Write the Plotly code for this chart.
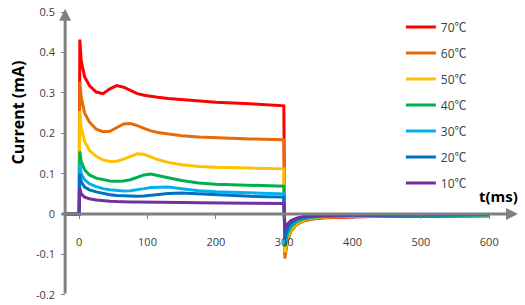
import plotly.graph_objects as go

t = [-20, 0, 1, 3, 8, 15, 25, 35, 45, 55, 65, 75, 85, 95, 105, 115, 130, 150, 175, 200, 250, 299.5,
     301, 305, 310, 318, 328, 340, 360, 390, 430, 480, 540, 600]

labels = ["70℃", "60℃", "50℃", "40℃", "30℃", "20℃", "10℃"]
colors = ["#FF0000", "#E46C0A", "#FFC000", "#00B050", "#00B0F0", "#0070C0", "#7030A0"]

c70 = [0, 0, 0.432, 0.38, 0.34, 0.318, 0.302, 0.298, 0.31, 0.318, 0.314, 0.305, 0.298, 0.294, 0.291, 0.289,
       0.286, 0.283, 0.280, 0.277, 0.273, 0.268,
       -0.100, -0.060, -0.040, -0.025, -0.017, -0.012, -0.009, -0.007, -0.006, -0.006, -0.005, -0.005]
c60 = [0, 0, 0.328, 0.29, 0.25, 0.228, 0.21, 0.204, 0.205, 0.214, 0.223, 0.224, 0.219, 0.212, 0.206, 0.202,
       0.198, 0.194, 0.191, 0.189, 0.186, 0.184,
       -0.110, -0.065, -0.042, -0.026, -0.017, -0.012, -0.008, -0.006, -0.005, -0.004, -0.004, -0.003]
c50 = [0, 0, 0.255, 0.215, 0.18, 0.158, 0.143, 0.134, 0.130, 0.131, 0.136, 0.143, 0.149, 0.148, 0.142, 0.135,
       0.128, 0.122, 0.118, 0.116, 0.114, 0.112,
       -0.095, -0.056, -0.037, -0.023, -0.015, -0.010, -0.007, -0.005, -0.004, -0.003, -0.003, -0.002]
c40 = [0, 0, 0.155, 0.13, 0.11, 0.097, 0.089, 0.085, 0.082, 0.081, 0.082, 0.085, 0.091, 0.097, 0.099, 0.096,
       0.090, 0.083, 0.077, 0.074, 0.071, 0.069,
       -0.080, -0.047, -0.031, -0.019, -0.012, -0.008, -0.006, -0.004, -0.003, -0.003, -0.002, -0.002]
c30 = [0, 0, 0.125, 0.10, 0.085, 0.075, 0.068, 0.063, 0.060, 0.058, 0.057, 0.058, 0.060, 0.063, 0.066, 0.067,
       0.067, 0.063, 0.058, 0.055, 0.052, 0.050,
       -0.070, -0.040, -0.026, -0.016, -0.010, -0.007, -0.005, -0.004, -0.003, -0.002, -0.002, -0.002]
c20 = [0, 0, 0.100, 0.08, 0.067, 0.060, 0.055, 0.051, 0.048, 0.046, 0.045, 0.044, 0.044, 0.045, 0.047, 0.049,
       0.051, 0.052, 0.050, 0.047, 0.044, 0.042,
       -0.060, -0.034, -0.022, -0.013, -0.008, -0.006, -0.004, -0.003, -0.002, -0.002, -0.002, -0.001]
c10 = [0, 0, 0.065, 0.05, 0.042, 0.038, 0.035, 0.033, 0.032, 0.031, 0.030, 0.030, 0.030, 0.030, 0.030, 0.030,
       0.029, 0.029, 0.028, 0.028, 0.027, 0.026,
       -0.040, -0.024, -0.016, -0.010, -0.006, -0.004, -0.003, -0.002, -0.002, -0.001, -0.001, -0.001]
series = [c70, c60, c50, c40, c30, c20, c10]

ytickvals = [-0.2, -0.1, 0, 0.1, 0.2, 0.3, 0.4, 0.5]
yticktext = ["-0.2", "-0.1", "0", "0.1", "0.2", "0.3", "0.4", "0.5"]
xtickvals = [0, 100, 200, 300, 400, 500, 600]
xticktext = ["0", "100", "200", "300", "400", "500", "600"]

XR = [-28, 645]
YR = [-0.225, 0.52]
AX = "#808080"
FONT = "Open Sans, Noto Sans CJK SC, sans-serif"

fig = go.Figure()
for name, col, ys in zip(labels, colors, series):
    fig.add_trace(go.Scatter(x=t, y=ys, mode="lines", name=name, legendgroup=name,
                             line=dict(color=col, width=3)))

ypos_frac = (0 - YR[0]) / (YR[1] - YR[0])
xpos_frac = (-20.5 - XR[0]) / (XR[1] - XR[0])

fig.update_layout(
    width=525, height=305,
    margin=dict(l=60, r=5, t=4, b=0),
    paper_bgcolor="white", plot_bgcolor="white",
    font=dict(family=FONT, size=11, color="#404040"),
    xaxis=dict(range=XR, showgrid=False, zeroline=False, showline=False,
               anchor="free", position=ypos_frac,
               tickvals=xtickvals, ticktext=xticktext,
               ticks="outside", ticklen=4, tickwidth=1, tickcolor=AX,
               ticklabelstandoff=14, tickfont=dict(size=11, color="#404040")),
    yaxis=dict(range=YR, showgrid=False, zeroline=False, showline=False,
               anchor="free", position=xpos_frac,
               tickvals=ytickvals, ticktext=yticktext,
               ticks="outside", ticklen=4, tickwidth=1, tickcolor=AX,
               ticklabelstandoff=4, tickfont=dict(size=11, color="#404040")),
    legend=dict(x=0.741, y=0.972, xanchor="left", yanchor="top",
                font=dict(size=12, color="#404040", family=FONT),
                tracegroupgap=7, traceorder="grouped", itemwidth=30,
                bgcolor="rgba(0,0,0,0)"),
    showlegend=True,
)

# axis lines with arrows
fig.add_annotation(x=-20.5, y=0.508, ax=-20.5, ay=-0.2, xref="x", yref="y", axref="x", ayref="y",
                   showarrow=True, arrowhead=2, arrowsize=0.8, arrowwidth=3, arrowcolor=AX, text="")
fig.add_annotation(x=642, y=0, ax=-28, ay=0, xref="x", yref="y", axref="x", ayref="y",
                   showarrow=True, arrowhead=2, arrowsize=0.8, arrowwidth=3, arrowcolor=AX, text="")

fig.add_annotation(x=613, y=0.045, xref="x", yref="y", text="<b>t(ms)</b>", showarrow=False,
                   font=dict(size=15, color="black", family=FONT))
fig.add_annotation(x=-0.091, y=0.64, xref="paper", yref="paper", xanchor="center", yanchor="middle",
                   text="<b>Current (mA)</b>", showarrow=False,
                   textangle=-90, font=dict(size=16, color="black", family=FONT))

fig.write_html("out.html")
